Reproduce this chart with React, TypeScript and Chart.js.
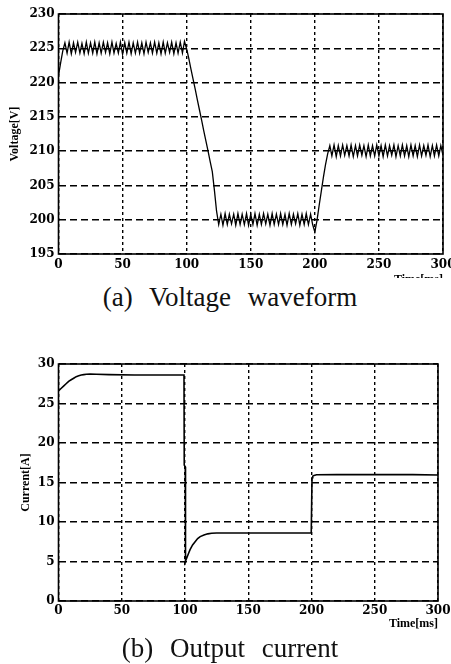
import React, { useEffect, useRef } from "react";
import { Chart, registerables } from "chart.js";

Chart.register(...registerables);

// ---------- data ----------
const voltTimes = [
  0, 1.7, 3.3, 5, 6.7, 8.3, 10, 11.7, 13.3, 15, 16.7, 18.3, 20, 21.7, 23.3,
  25, 26.7, 28.3, 30, 31.7, 33.3, 35, 36.7, 38.3, 40, 41.7, 43.3, 45, 46.7, 48.3,
  50, 51.7, 53.3, 55, 56.7, 58.3, 60, 61.7, 63.3, 65, 66.7, 68.3, 70, 71.7, 73.3,
  75, 76.7, 78.3, 80, 81.7, 83.3, 85, 86.7, 88.3, 90, 91.7, 93.3, 95, 96.7, 98.3,
  100, 101.7, 103.3, 105, 106.7, 108.3, 110, 111.7, 113.3, 115, 116.7, 118.3, 120, 121.7, 123.3,
  125, 126.7, 128.3, 130, 131.7, 133.3, 135, 136.7, 138.3, 140, 141.7, 143.3, 145, 146.7, 148.3,
  150, 151.7, 153.3, 155, 156.7, 158.3, 160, 161.7, 163.3, 165, 166.7, 168.3, 170, 171.7, 173.3,
  175, 176.7, 178.3, 180, 181.7, 183.3, 185, 186.7, 188.3, 190, 191.7, 193.3, 195, 196.7, 198.3,
  200, 201.7, 203.3, 205, 206.7, 208.3, 210, 211.7, 213.3, 215, 216.7, 218.3, 220, 221.7, 223.3,
  225, 226.7, 228.3, 230, 231.7, 233.3, 235, 236.7, 238.3, 240, 241.7, 243.3, 245, 246.7, 248.3,
  250, 251.7, 253.3, 255, 256.7, 258.3, 260, 261.7, 263.3, 265, 266.7, 268.3, 270, 271.7, 273.3,
  275, 276.7, 278.3, 280, 281.7, 283.3, 285, 286.7, 288.3, 290, 291.7, 293.3, 295, 296.7, 298.3,
  300,
];
const voltValues = [
  221.0, 222.9, 224.6, 225.8, 224.3, 225.9, 224.2, 225.8, 224.4, 225.9, 224.3, 225.7, 224.2, 225.9, 224.3,
  225.8, 224.3, 225.9, 224.2, 225.8, 224.3, 225.9, 224.4, 225.8, 224.2, 225.9, 224.3, 225.7, 224.3, 225.9,
  224.1, 225.8, 224.3, 225.9, 224.2, 225.8, 224.3, 225.9, 224.3, 225.8, 224.2, 225.9, 224.4, 225.8, 224.3,
  225.9, 224.3, 225.8, 224.2, 225.9, 224.3, 225.8, 224.4, 225.9, 224.2, 225.8, 224.3, 225.9, 224.3, 226.0,
  224.9, 223.5, 222.0, 220.5, 219.0, 217.5, 216.0, 214.5, 213.0, 211.5, 210.0, 208.5, 207.0, 204.2, 201.3,
  199.3, 200.8, 199.2, 200.9, 199.3, 200.8, 199.4, 200.8, 199.2, 200.9, 199.3, 200.8, 199.3, 200.9, 199.2,
  200.8, 199.3, 200.9, 199.2, 200.8, 199.3, 200.9, 199.4, 200.8, 199.2, 200.9, 199.3, 200.8, 199.3, 200.9,
  199.3, 200.8, 199.2, 200.9, 199.3, 200.8, 199.4, 200.9, 199.2, 200.8, 199.3, 200.9, 199.3, 200.8, 199.3,
  198.2, 199.9, 202.0, 204.1, 206.2, 208.0, 209.6, 210.8, 209.3, 210.9, 209.2, 210.8, 209.3, 210.9, 209.4,
  210.8, 209.3, 210.9, 209.2, 210.8, 209.3, 210.9, 209.4, 210.8, 209.2, 210.9, 209.3, 210.8, 209.3, 210.9,
  209.3, 210.8, 209.2, 210.9, 209.3, 210.8, 209.4, 210.9, 209.2, 210.8, 209.3, 210.9, 209.3, 210.8, 209.2,
  210.9, 209.3, 210.8, 209.2, 210.9, 209.3, 210.8, 209.4, 210.9, 209.2, 210.8, 209.3, 210.9, 209.3, 210.8,
  209.4,
];

const currTimes = [
  0, 2, 4, 6, 8, 10, 12, 14, 16, 18, 20, 22, 25, 30, 40, 60, 80, 99.2,
  99.4, 100.2, 100.4, 101, 102, 103, 104, 106, 108, 110, 112, 115, 118, 121, 125, 150, 180, 199.8,
  200.4, 201, 202, 204, 220, 250, 280, 300,
];
const currValues = [
  26.6, 26.9, 27.2, 27.5, 27.8, 28.0, 28.2, 28.4, 28.5, 28.6, 28.65, 28.7, 28.72, 28.7, 28.65, 28.6, 28.6, 28.6,
  17.2, 17.0, 5.0, 5.3, 5.7, 6.1, 6.5, 7.1, 7.5, 7.9, 8.15, 8.35, 8.5, 8.58, 8.6, 8.6, 8.6, 8.6,
  15.6, 15.8, 15.9, 15.98, 16.0, 16.0, 16.0, 15.95,
];

const timeTicks = [0, 50, 100, 150, 200, 250, 300];
const voltTicks = [195, 200, 205, 210, 215, 220, 225, 230];
const currTicks = [0, 5, 10, 15, 20, 25, 30];

// ---------- chart helpers ----------
const framePlugin = {
  id: "frame",
  afterDraw(chart: any) {
    const { ctx, chartArea: a } = chart;
    ctx.save();
    ctx.strokeStyle = "#000";
    ctx.lineWidth = 1.6;
    ctx.setLineDash([]);
    ctx.strokeRect(a.left, a.top, a.right - a.left, a.bottom - a.top);
    ctx.restore();
  },
};

const tickFont = { family: "'DejaVu Serif', serif", size: 12, weight: "bold" as const };
const titleFont = { family: "'Liberation Serif', serif", size: 12, weight: "bold" as const };

function makeConfig(p: {
  times: number[];
  values: number[];
  yTicks: number[];
  yTitle: string;
  yTitlePad: number;
  padding: { top: number; right: number; left: number; bottom: number };
  yWidth: number;
  xHeight: number;
  xTickPad: number;
  xTitlePad: number;
  lineWidth: number;
}) {
  const data = p.times.map((t, i) => ({ x: t, y: p.values[i] }));
  return {
    type: "line" as const,
    data: {
      datasets: [
        {
          data,
          borderColor: "#000",
          borderWidth: p.lineWidth,
          pointRadius: 0,
          tension: 0,
          fill: false,
        },
      ],
    },
    options: {
      animation: false as const,
      responsive: false,
      devicePixelRatio: 1,
      layout: { padding: p.padding },
      plugins: { legend: { display: false }, tooltip: { enabled: false } },
      scales: {
        x: {
          type: "linear" as const,
          min: timeTicks[0],
          max: timeTicks[timeTicks.length - 1],
          afterBuildTicks: (s: any) => {
            s.ticks = timeTicks.map((v) => ({ value: v }));
          },
          afterFit: (s: any) => {
            s.height = p.xHeight;
          },
          ticks: {
            color: "#000",
            font: tickFont,
            padding: p.xTickPad,
            maxRotation: 0,
            autoSkip: false,
          },
          grid: { color: "#000", lineWidth: 1.4, drawTicks: false },
          border: { display: false, dash: [3, 3] },
          title: {
            display: true,
            text: "Time[ms]",
            align: "end" as const,
            color: "#000",
            font: titleFont,
            padding: { top: 0, bottom: p.xTitlePad },
          },
        },
        y: {
          type: "linear" as const,
          min: p.yTicks[0],
          max: p.yTicks[p.yTicks.length - 1],
          afterBuildTicks: (s: any) => {
            s.ticks = p.yTicks.map((v) => ({ value: v }));
          },
          afterFit: (s: any) => {
            s.width = p.yWidth;
          },
          ticks: { color: "#000", font: tickFont, padding: 4 },
          grid: { color: "#000", lineWidth: 1.4, drawTicks: false },
          border: { display: false, dash: [7, 4] },
          title: {
            display: true,
            text: p.yTitle,
            color: "#000",
            font: titleFont,
            padding: { top: p.yTitlePad, bottom: 0 },
          },
        },
      },
    },
    plugins: [framePlugin],
  };
}

const CANVAS_W = 470;

export default function App() {
  const ref1 = useRef<HTMLCanvasElement | null>(null);
  const ref2 = useRef<HTMLCanvasElement | null>(null);

  useEffect(() => {
    const c1 = new Chart(
      ref1.current!,
      makeConfig({
        times: voltTimes,
        values: voltValues,
        yTicks: voltTicks,
        yTitle: "Voltage[V]",
        yTitlePad: 8,
        padding: { top: 14, right: 27, left: 0, bottom: 0 },
        yWidth: 58.5,
        xHeight: 36,
        xTickPad: 4,
        xTitlePad: 3,
        lineWidth: 1.3,
      }) as any
    );
    const c2 = new Chart(
      ref2.current!,
      makeConfig({
        times: currTimes,
        values: currValues,
        yTicks: currTicks,
        yTitle: "Current[A]",
        yTitlePad: 19,
        padding: { top: 24, right: 32, left: 0, bottom: 0 },
        yWidth: 58.5,
        xHeight: 31,
        xTickPad: 3,
        xTitlePad: 1,
        lineWidth: 1.6,
      }) as any
    );
    return () => {
      c1.destroy();
      c2.destroy();
    };
  }, []);

  const captionStyle: React.CSSProperties = {
    position: "absolute",
    left: 0,
    width: 460,
    textAlign: "center",
    fontFamily: "'Liberation Serif', serif",
    fontSize: 27,
    wordSpacing: 10,
    color: "#111",
    whiteSpace: "nowrap",
  };

  return (
    <div
      style={{
        position: "absolute",
        left: 0,
        top: 0,
        width: 451,
        height: 664,
        overflow: "hidden",
        background: "#fff",
      }}
    >
      <canvas
        ref={ref1}
        width={CANVAS_W}
        height={290}
        style={{ position: "absolute", left: 0, top: 0, width: CANVAS_W, height: 290 }}
      />
      <div
        style={{
          ...captionStyle,
          top: 278,
          height: 38,
          lineHeight: "38px",
          width: 451,
          background: "#fff",
        }}
      >
        <span style={{ display: "inline-block", width: 460, textAlign: "center" }}>
          (a) Voltage waveform
        </span>
      </div>
      <canvas
        ref={ref2}
        width={CANVAS_W}
        height={292}
        style={{ position: "absolute", left: 0, top: 340, width: CANVAS_W, height: 292 }}
      />
      <div style={{ ...captionStyle, top: 631, height: 34, lineHeight: "34px" }}>
        (b) Output current
      </div>
    </div>
  );
}
